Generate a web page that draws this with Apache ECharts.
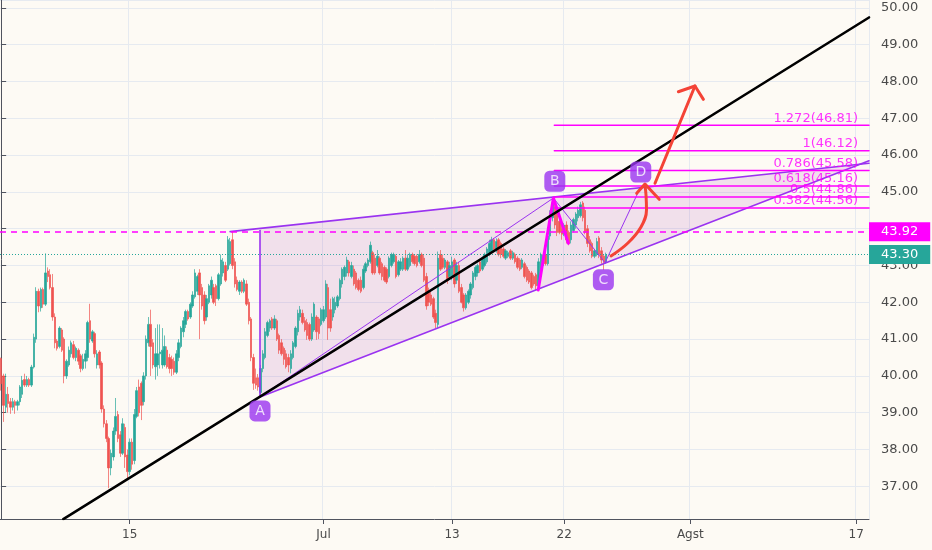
<!DOCTYPE html>
<html>
<head>
<meta charset="utf-8">
<script src="https://cdn.jsdelivr.net/npm/echarts@6/dist/echarts.min.js"></script>
<style>
html,body{margin:0;padding:0;background:#fdfaf4;}
#chart{width:932px;height:550px;}
</style>
</head>
<body>
<div id="chart"></div>
<script>
// ---------- data ----------
const SLOTS = 372;
const dateLabels = ['15', 'Jul', '13', '22', 'Agst', '17'];
const dateIdx = [55, 138, 193, 241, 295, 366];
const yMin = 36.112, yMax = 50.215;

// [open, close, low, high]
const bars = [
[40.47,39.79,39.6,40.5],[40.0,39.2,38.75,40.06],[39.15,39.5,39.0,40.06],[39.5,39.25,39.0,39.7],[39.3,39.15,38.97,39.4],
[39.15,39.3,39.06,39.4],[39.3,39.2,38.97,39.35],[39.2,39.3,39.06,39.35],[39.3,39.7,39.2,39.75],[39.5,39.88,39.4,40.0],
[39.9,39.75,39.7,40.06],[39.75,39.9,39.7,40.0],[39.9,39.75,39.7,39.95],[39.75,40.24,39.7,40.3],[40.24,41.05,40.2,41.15],
[41.0,42.3,40.9,42.41],[42.3,41.9,41.73,42.37],[41.85,42.35,41.75,42.4],[42.35,41.95,41.85,42.4],[41.95,42.8,41.9,43.33],
[42.85,42.7,42.55,42.95],[42.75,42.4,42.35,42.9],[42.4,41.6,41.5,42.77],[41.6,40.9,40.75,41.7],[40.95,40.75,40.69,41.0],
[40.8,41.3,40.75,41.35],[41.25,40.7,40.65,41.3],[41.0,40.0,39.8,41.05],[40.0,40.4,39.92,40.45],[40.3,40.7,40.25,40.8],
[40.6,40.9,40.5,40.96],[40.85,40.5,40.45,40.95],[40.5,40.75,40.4,40.8],[40.7,40.4,40.3,40.75],[40.55,40.2,40.1,40.6],
[40.2,40.45,40.15,40.6],[40.4,40.6,40.2,40.7],[40.5,41.45,40.4,41.5],[41.5,41.0,40.9,41.96],[40.95,41.2,40.9,41.25],
[41.15,40.6,40.5,41.2],[40.3,40.6,40.2,40.7],[40.65,40.3,40.2,40.7],[40.35,39.1,39.0,40.4],[39.1,38.7,38.6,39.2],
[38.7,38.3,38.2,38.8],[38.3,37.5,36.95,38.35],[37.5,37.9,37.3,38.0],[37.8,38.5,37.7,38.6],[38.5,38.9,38.4,39.4],
[38.95,38.3,38.2,39.05],[38.4,37.9,37.8,38.5],[37.9,38.7,37.85,38.85],[38.6,37.8,37.5,38.7],[37.85,37.4,37.2,38.0],
[37.4,38.2,37.3,38.3],[38.2,37.6,37.45,38.3],[37.7,38.95,37.6,39.1],[38.9,39.6,38.85,39.7],[39.7,39.0,38.9,39.9],
[39.8,39.2,38.8,39.85],[39.3,40.0,39.2,40.1],[40.0,41.0,39.9,41.1],[40.9,41.4,40.8,41.6],[41.4,40.8,40.0,41.8],
[40.9,40.3,40.2,41.0],[40.25,40.6,39.9,41.3],[40.3,40.6,40.0,41.4],[40.6,40.65,40.2,41.4],[40.3,40.7,40.2,41.3],
[40.3,40.8,40.25,41.1],[40.7,40.25,40.2,40.8],[40.5,40.2,40.07,40.6],[40.45,40.2,40.0,40.55],[40.4,40.1,40.03,40.5],
[40.1,40.6,40.05,40.7],[40.5,40.9,40.4,41.0],[40.8,41.3,40.75,41.35],[41.2,41.5,41.05,41.6],[41.4,41.75,41.3,41.8],
[41.75,41.55,41.5,41.8],[41.6,41.95,41.55,42.0],[41.9,42.2,41.85,42.3],[42.15,42.8,42.1,42.9],[42.3,42.7,42.2,42.75],
[42.8,42.2,41.0,42.9],[42.4,41.9,41.8,42.5],[42.2,41.5,41.4,42.3],[41.6,42.1,41.5,42.2],[42.0,42.45,41.95,42.5],
[42.2,42.6,42.1,42.7],[42.4,42.0,41.95,42.5],[42.45,42.1,41.9,42.5],[42.1,42.75,42.05,42.8],[42.5,43.15,42.45,43.3],
[42.8,43.1,42.7,43.2],[43.0,42.6,42.55,43.1],[42.9,43.7,42.85,43.8],[43.05,43.65,43.0,43.75],[43.7,43.0,42.9,43.92],
[43.1,42.5,42.4,43.2],[42.6,42.35,42.3,42.7],[42.3,42.55,42.2,42.6],[42.55,42.3,42.25,42.6],[42.3,42.6,42.25,42.65],
[42.5,41.95,41.9,42.6],[42.0,41.5,41.4,42.1],[41.55,40.5,40.4,41.6],[40.5,39.8,39.62,40.6],[39.95,39.75,39.65,40.2],
[39.95,39.7,39.6,40.05],[39.55,40.2,39.45,40.3],[40.2,40.6,40.1,40.7],[40.5,41.2,40.45,41.3],[41.1,41.45,41.05,41.5],
[41.3,41.5,41.2,41.55],[41.55,41.3,41.25,41.6],[41.3,41.55,41.25,41.65],[41.5,41.0,40.95,41.55],[41.1,40.7,40.6,41.15],
[40.9,40.6,40.55,41.0],[40.75,40.45,40.3,40.8],[40.6,40.25,40.2,40.7],[40.5,40.3,40.1,40.6],[40.2,40.6,40.07,40.7],
[40.5,40.9,40.45,40.95],[40.8,41.3,40.75,41.35],[41.2,41.7,41.1,41.8],[41.6,41.8,41.5,41.9],[41.7,41.45,41.4,41.8],
[41.5,41.25,41.2,41.6],[41.45,41.1,40.98,41.55],[41.4,41.0,40.95,41.45],[41.0,41.6,40.95,41.7],[41.25,41.95,41.2,42.0],
[41.6,41.2,40.98,41.65],[41.55,41.15,41.0,41.6],[41.4,41.8,41.35,41.85],[41.5,41.8,41.45,41.9],[41.6,42.5,41.55,42.6],
[42.4,41.3,40.98,42.5],[41.8,41.3,41.2,42.1],[41.6,42.1,41.5,42.15],[41.8,42.0,41.7,42.15],[41.9,42.15,41.85,42.2],
[42.1,42.6,42.05,42.65],[42.5,42.9,42.4,42.95],[42.7,42.95,42.6,43.0],[42.8,43.15,42.7,43.24],[43.1,42.8,42.7,43.15],
[42.7,43.0,42.65,43.1],[42.9,42.5,42.45,43.0],[42.8,42.4,42.35,42.85],[42.6,42.35,42.3,42.65],[42.6,42.3,42.25,42.7],
[42.4,42.9,42.35,43.0],[42.85,43.05,42.8,43.1],[43.0,43.15,42.95,43.2],[43.1,43.55,43.05,43.65],[43.35,42.8,42.75,43.4],
[43.2,42.8,42.75,43.3],[43.0,43.25,42.95,43.42],[43.2,42.8,42.75,43.25],[43.05,42.7,42.6,43.1],[42.95,42.6,42.55,43.0],
[42.9,42.55,42.5,42.95],[42.7,43.2,42.65,43.25],[43.0,43.3,42.95,43.35],[43.1,43.3,43.05,43.35],[43.25,42.7,42.65,43.3],
[42.75,43.1,42.7,43.15],[42.9,43.1,42.85,43.2],[42.9,43.2,42.85,43.25],[43.2,42.9,42.85,43.42],[42.9,43.2,42.85,43.3],
[43.0,43.3,42.95,43.35],[43.3,43.1,43.05,43.35],[43.25,43.05,43.0,43.3],[43.25,43.0,42.95,43.3],[43.1,43.3,43.05,43.42],
[43.3,43.0,42.95,43.35],[43.2,42.6,42.55,43.3],[42.7,41.9,41.8,42.8],[42.3,42.0,41.9,42.4],[42.2,41.95,41.9,42.3],
[42.1,41.6,41.55,42.15],[41.7,41.45,41.3,41.8],[41.4,43.2,41.3,43.38],[43.3,42.9,42.85,43.42],[43.2,42.95,42.9,43.3],
[42.95,43.15,42.9,43.2],[43.1,42.6,42.5,43.15],[42.7,43.0,42.65,43.1],[42.7,43.1,42.6,43.24],[43.15,42.5,42.4,43.2],
[42.6,43.0,42.5,43.1],[43.0,42.3,42.25,43.1],[42.4,42.0,41.97,42.5],[42.2,41.85,41.75,42.25],[41.85,42.2,41.8,42.25],
[42.0,42.3,41.95,42.35],[42.2,42.5,42.1,42.55],[42.4,42.8,42.35,42.85],[42.7,42.95,42.6,43.0],[42.8,43.0,42.7,43.05],
[43.1,42.85,42.8,43.15],[42.9,43.2,42.85,43.25],[43.0,43.3,42.95,43.35],[43.1,43.45,43.05,43.5],[43.3,43.6,43.25,43.7],
[43.4,43.7,43.35,43.78],[43.7,43.45,43.4,43.75],[43.4,43.65,43.35,43.74],[43.7,43.3,43.25,43.75],[43.6,43.3,43.2,43.65],
[43.45,43.25,43.2,43.5],[43.2,43.4,43.15,43.45],[43.25,43.35,43.2,43.4],[43.4,43.2,43.15,43.45],[43.2,43.35,43.15,43.4],
[43.3,43.1,43.05,43.35],[43.2,42.95,42.9,43.25],[43.15,42.9,42.85,43.2],[42.95,43.15,42.9,43.2],[43.05,42.7,42.65,43.1],
[42.95,42.6,42.55,43.0],[42.85,42.55,42.5,42.9],[42.8,42.4,42.35,42.85],[42.7,42.5,42.45,42.75],[42.75,42.45,42.33,42.8],
[42.45,43.1,42.33,43.2],[42.9,43.3,42.85,43.35],[43.0,43.2,42.95,43.3],[43.3,43.05,43.0,43.6],[43.05,43.8,43.0,44.0],
[43.8,44.4,43.7,44.5],[44.3,44.7,44.2,44.85],[44.6,44.1,44.0,44.75],[44.4,43.9,43.8,44.5],[44.2,43.9,43.85,44.3],
[44.0,43.85,43.7,44.1],[43.85,44.1,43.8,44.15],[44.1,43.7,43.6,44.2],[43.9,43.6,43.55,43.95],[43.7,44.1,43.6,44.2],
[43.95,44.25,43.9,44.3],[44.1,44.4,44.0,44.45],[44.3,44.5,44.2,44.6],[44.35,44.65,44.3,44.73],[44.7,44.3,44.2,44.75],
[44.5,43.9,43.85,44.6],[44.0,43.6,43.5,44.1],[43.7,43.4,43.35,43.8],[43.6,43.25,43.2,43.65],[43.25,43.4,43.2,43.45],
[43.3,43.65,43.25,43.75],[43.75,43.3,43.2,43.8],[43.4,43.15,43.05,43.5],[43.25,43.1,42.88,43.3],[43.1,43.3,43.05,43.35]
];

// price tags on the right axis
const tagPrices = [43.92, 43.30];
const tagColors = ['#ff00ff', '#26a69a'];

// fibonacci levels
const fibRatios = ['1.272', '1', '0.786', '0.618', '0.5', '0.382'];
const fibPrices = [46.81, 46.12, 45.58, 45.16, 44.86, 44.56];
const fibStart = 236.8, fibEnd = 371.5, fibTextX = 366.8;

// drawings (index, price)
const trendLine = [[26.6, 36.11], [371.5, 49.74]];
const upperLine = [[98, 43.92], [371.5, 45.777]];
const lowerLine = [[110.8, 39.43], [371.5, 45.847]];
const leftEdge = [[110.8, 43.95], [110.8, 39.43]];
const patternFill = [[110.8, 44.0], [367.5, 45.749], [110.8, 39.43]];
const legAB = [[110.8, 39.43], [236.4, 44.834]];
const legBC = [[236.4, 44.834], [258.5, 43.076]];
const legCD = [[258.5, 43.076], [273.5, 45.10]];
const spikeB = [[229.9, 42.334], [236.4, 44.834], [242.8, 43.603]];
const curveArrow = [[261.06, 43.258], [268.3, 43.611], [273.9, 44.046], [276.25, 44.508], [276.04, 44.916], [275.6, 45.188]];
const curveHead = [[272.06, 44.962], [275.6, 45.215], [281.7, 44.799]];
const upArrow = [[279.9, 45.234], [297.0, 47.878]];
const upHead = [[289.9, 47.723], [297.0, 47.878], [300.6, 47.516]];
const pointNames = ['A', 'B', 'C', 'D'];
const pointBoxes = [[110.8, 39.05], [237.0, 45.29], [257.8, 42.61], [273.8, 45.54]];

// ---------- chart ----------
const categories = Array.from({length: SLOTS}, (_, i) => {
  const k = dateIdx.indexOf(i);
  return k >= 0 ? dateLabels[k] : '';
});
const isDate = (i) => dateIdx.indexOf(i) >= 0;

const PURPLE = '#9a33f0';
const MAGENTA = '#ff00ff';
const RED = '#f44336';

function lineSeries(data, color, width, z, extra) {
  return Object.assign({
    type: 'line', xAxisIndex: 1, yAxisIndex: 0, data: data,
    symbol: 'none', silent: true, z: z,
    lineStyle: {color: color, width: width, cap: 'round', join: 'round'}
  }, extra || {});
}

const series = [];

series.push({
  type: 'custom', xAxisIndex: 1, yAxisIndex: 0, silent: true, z: 1,
  data: [[0, 0]],
  renderItem: function (params, api) {
    return {
      type: 'polygon',
      shape: {points: patternFill.map(p => api.coord(p))},
      style: {fill: 'rgba(156,39,176,0.12)'}
    };
  }
});

series.push({
  type: 'candlestick', xAxisIndex: 0, yAxisIndex: 0, data: bars, z: 2,
  barWidth: 2, silent: true,
  itemStyle: {color: '#26a69a', color0: '#ef5350', borderColor: '#26a69a', borderColor0: '#ef5350', borderWidth: 0.7},
  markLine: {
    silent: true, symbol: ['none', 'none'], animation: false,
    data: tagPrices.map((p, k) => ({
      yAxis: p,
      lineStyle: k === 0 ? {color: tagColors[k], type: [6, 5], width: 1.5} : {color: tagColors[k], type: [1, 2], width: 1},
      label: {
        show: true, position: 'end', distance: 0,
        formatter: p.toFixed(2),
        color: '#ffffff', backgroundColor: tagColors[k],
        fontSize: 13, fontFamily: 'DejaVu Sans',
        padding: [3, 12, 3, 12]
      }
    }))
  }
});

series.push(lineSeries(trendLine, '#000000', 2.6, 6));
series.push(lineSeries(upperLine, PURPLE, 1.6, 4));
series.push(lineSeries(lowerLine, PURPLE, 1.6, 4));
series.push(lineSeries(leftEdge, PURPLE, 1.6, 4));
series.push(lineSeries(legAB, PURPLE, 1, 4));
series.push(lineSeries(legBC, PURPLE, 1, 4));
series.push(lineSeries(legCD, PURPLE, 1, 4));
fibPrices.forEach(p => {
  series.push(lineSeries([[fibStart, p], [fibEnd, p]], MAGENTA, 1.5, 5));
});
series.push(lineSeries(spikeB, MAGENTA, 3, 5));
series.push(lineSeries(curveArrow, RED, 3, 7, {smooth: 0.4}));
series.push(lineSeries(curveHead, RED, 3, 7));
series.push(lineSeries(upArrow, RED, 3, 7));
series.push(lineSeries(upHead, RED, 3, 7));

series.push({
  type: 'scatter', xAxisIndex: 1, yAxisIndex: 0, silent: true, z: 8,
  symbol: 'roundRect', symbolSize: 21,
  itemStyle: {color: PURPLE},
  data: pointBoxes.map((p, k) => ({value: p, name: pointNames[k]})),
  label: {show: true, position: 'inside', formatter: '{b}', color: '#ffffff', fontSize: 14, fontFamily: 'DejaVu Sans'}
});

series.push({
  type: 'scatter', xAxisIndex: 1, yAxisIndex: 0, silent: true, z: 8,
  symbolSize: 0,
  data: fibPrices.map((p, k) => ({value: [fibTextX, p], name: fibRatios[k] + '(' + p.toFixed(2) + ')'})),
  label: {show: true, position: 'left', distance: 0, offset: [0, -7], formatter: '{b}', color: MAGENTA, fontSize: 13, fontFamily: 'DejaVu Sans'}
});

const option = {
  backgroundColor: '#fdfaf4',
  animation: false,
  textStyle: {fontFamily: 'DejaVu Sans'},
  grid: {left: 0, right: 63, top: 0, bottom: 31, containLabel: false},
  xAxis: [{
    type: 'category', data: categories, boundaryGap: true,
    axisLine: {show: true, lineStyle: {color: '#50535e', width: 1}},
    axisTick: {show: true, alignWithLabel: true, interval: isDate, length: 5, lineStyle: {color: '#50535e'}},
    axisLabel: {interval: isDate, color: '#4a4a4a', fontSize: 12, margin: 10},
    splitLine: {show: true, interval: isDate, lineStyle: {color: '#e6eaf0', width: 1}}
  }, {
    type: 'value', min: -0.5, max: SLOTS - 0.5, show: false
  }],
  yAxis: [{
    type: 'value', position: 'right', min: yMin, max: yMax,
    minInterval: 1, maxInterval: 1,
    axisLine: {show: true, lineStyle: {color: '#50535e', width: 1}},
    axisTick: {show: true, length: 5, lineStyle: {color: '#50535e'}},
    axisLabel: {color: '#4a4a4a', fontSize: 13, margin: 12, showMinLabel: false, showMaxLabel: false,
      formatter: v => v.toFixed(2)},
    splitLine: {show: true, lineStyle: {color: '#e6eaf0', width: 1}}
  }],
  series: series
};

const chart = echarts.init(document.getElementById('chart'), null, {renderer: 'canvas'});
chart.setOption(option);
</script>
</body>
</html>
